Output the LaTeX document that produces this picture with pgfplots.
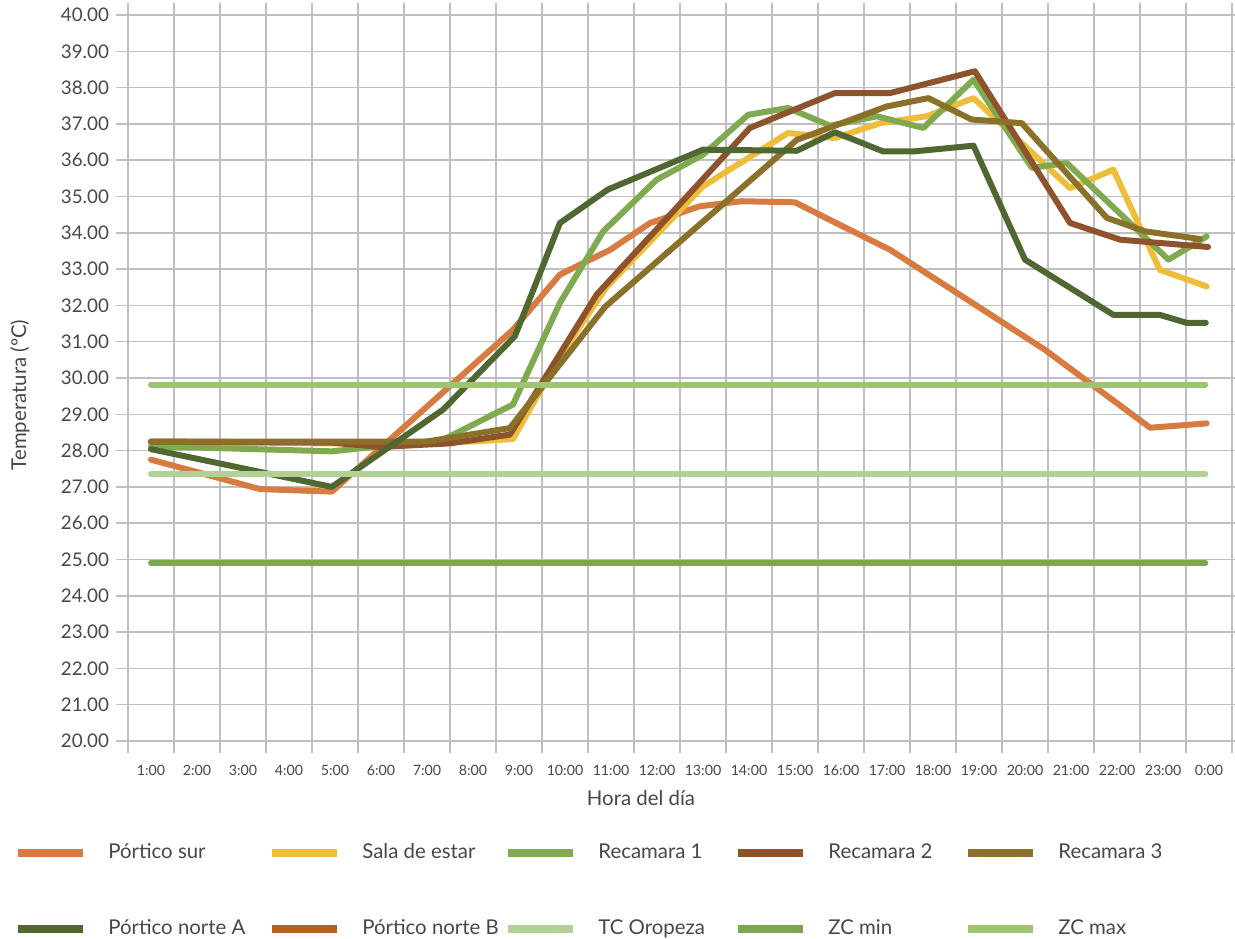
\documentclass[border=0pt]{standalone}
\usepackage{fontspec}
\setmainfont{Lato}
\usepackage{pgfplots}
\pgfplotsset{compat=1.18}
\definecolor{psur}{HTML}{D77B40}
\definecolor{sala}{HTML}{EEBD3A}
\definecolor{rec1}{HTML}{7FAA50}
\definecolor{rec2}{HTML}{8E532D}
\definecolor{rec3}{HTML}{8B7029}
\definecolor{pnA}{HTML}{4F6832}
\definecolor{pnB}{HTML}{B85F28}
\definecolor{tco}{HTML}{B3D096}
\definecolor{zcmin}{HTML}{7DA74F}
\definecolor{zcmax}{HTML}{9DC46F}
\definecolor{gridc}{HTML}{BFBFBF}
\definecolor{txt}{HTML}{474747}
\begin{document}
\begin{tikzpicture}
\useasboundingbox (-64pt,-98.5pt) rectangle (553.5pt,370.5pt);
\begin{axis}[
  at={(0pt,0pt)}, anchor=south west,
  scale only axis, width=552pt, height=363pt,
  xmin=0.5, xmax=24.5, ymin=20, ymax=40,
  xtick={0.5,1.5,...,24.5},
  x tick label as interval,
  xticklabels={1:00,2:00,3:00,4:00,5:00,6:00,7:00,8:00,9:00,10:00,11:00,12:00,13:00,14:00,15:00,16:00,17:00,18:00,19:00,20:00,21:00,22:00,23:00,0:00},
  ytick={20,21,...,40},
  grid=major,
  grid style={draw=gridc, line width=0.75pt},
  axis line style={draw=gridc, line width=0.75pt},
  tick style={draw=gridc, line width=0.75pt},
  tick align=outside,
  major tick length=6pt,
  /pgf/number format/assume math mode=true,
  yticklabel style={/pgf/number format/fixed, /pgf/number format/fixed zerofill, /pgf/number format/precision=2,
     font=\fontsize{9.4}{11}\selectfont, text=txt},
  xticklabel style={font=\fontsize{7.1}{8}\selectfont, text=txt, yshift=-2.5pt},
  every axis y label/.style={at={(rel axis cs:0,0.5)}, xshift=-54pt, yshift=-8.5pt, rotate=90, anchor=center, font=\fontsize{10.2}{12}\selectfont, text=txt},
  every axis x label/.style={at={(rel axis cs:0.5,0)}, anchor=center, xshift=-19.5pt, yshift=-28.5pt, font=\fontsize{10.2}{12}\selectfont, text=txt},
  ylabel={Temperatura (ºC)},
  xlabel={Hora del día},
  legend columns=5,
  legend cell align=left,
  legend style={at={(-0.1087,-0.2065)}, anchor=west, draw=none, fill=none,
     font=\fontsize{10.2}{12}\selectfont, text=txt, row sep=29pt,
     nodes={inner sep=0pt},
     /tikz/every odd column/.append style={column sep=10.5pt},
     /tikz/every even column/.append style={column sep=0pt}},
  legend image code/.code={\draw[#1, line width=4pt, line cap=butt] (0pt,0pt) -- (32.5pt,0pt);},
  every axis plot/.append style={line width=3pt, line join=round, line cap=round, mark=none},
]
\addplot[psur] coordinates {(1,27.75) (3.37,26.94) (4.93,26.87) (8.87,31.33) (9.89,32.85) (10.98,33.53) (11.85,34.27) (12.93,34.73) (13.84,34.87) (15.0,34.84) (15.83,34.31) (17.07,33.53) (20.43,30.78) (22.72,28.63) (23.95,28.75)};
\addlegendentry{\makebox[80pt][l]{Pórtico sur}}
\addplot[sala] coordinates {(1,28.22) (5,28.2) (8,28.25) (8.87,28.32) (9.89,30.6) (10.9,32.5) (13.0,35.28) (14.85,36.75) (15.87,36.61) (16.85,37.02) (17.86,37.21) (18.88,37.71) (20.98,35.23) (21.92,35.74) (22.93,32.98) (23.95,32.52)};
\addlegendentry{\makebox[71pt][l]{Sala de estar}}
\addplot[rec1] coordinates {(1,28.12) (4.93,27.98) (7.35,28.3) (8.87,29.27) (9.89,32.07) (10.83,34.04) (11.99,35.46) (13.0,36.15) (13.98,37.25) (14.85,37.44) (15.76,36.95) (16.78,37.21) (17.79,36.89) (18.88,38.22) (20.15,35.79) (20.91,35.92) (23.12,33.26) (23.95,33.9)};
\addlegendentry{\makebox[68pt][l]{Recamara 1}}
\addplot[rec2] coordinates {(1,28.25) (4.93,28.22) (6.0,28.1) (7.5,28.2) (8.80,28.44) (10.69,32.3) (14.02,36.89) (15.87,37.85) (17.07,37.85) (18.91,38.45) (20.98,34.27) (22.07,33.81) (23.98,33.61)};
\addlegendentry{\makebox[68pt][l]{Recamara 2}}
\addplot[rec3] coordinates {(1,28.25) (7.0,28.25) (8.80,28.62) (10.87,31.96) (15.04,36.56) (16.99,37.48) (17.9,37.71) (18.84,37.12) (19.93,37.02) (21.78,34.41) (22.61,34.04) (23.8,33.83)};
\addlegendentry{Recamara 3}
\addplot[pnA] coordinates {(1,28.04) (4.93,27.0) (7.35,29.13) (8.91,31.15) (9.89,34.27) (10.93,35.19) (13.0,36.29) (15.04,36.26) (15.87,36.77) (16.92,36.24) (17.57,36.24) (18.88,36.4) (20.0,33.26) (21.92,31.74) (22.93,31.74) (23.51,31.52) (23.93,31.52)};
\addlegendentry{\makebox[80pt][l]{Pórtico norte A}}
\addlegendimage{pnB, line width=3pt}
\addlegendentry{\makebox[71pt][l]{Pórtico norte B}}
\addplot[tco] coordinates {(1,27.36) (23.92,27.36)};
\addlegendentry{\makebox[68pt][l]{TC Oropeza}}
\addplot[zcmin] coordinates {(1,24.91) (23.92,24.91)};
\addlegendentry{\makebox[68pt][l]{ZC min}}
\addplot[zcmax] coordinates {(1,29.82) (23.92,29.82)};
\addlegendentry{ZC max}
\end{axis}
\end{tikzpicture}
\end{document}
